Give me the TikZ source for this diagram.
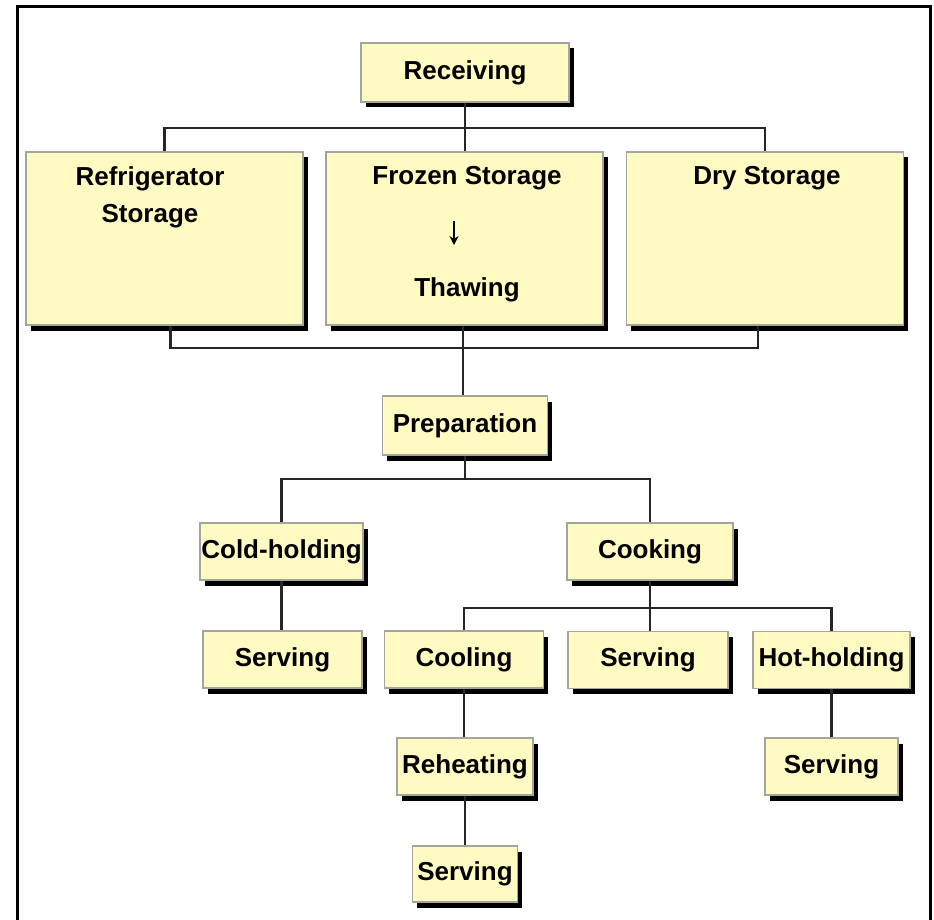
\documentclass[tikz,border=0pt]{standalone}
\usepackage{fontspec}
\setmainfont{Liberation Sans}
\usetikzlibrary{arrows.meta,positioning,shadows}
\definecolor{boxfill}{RGB}{255,250,194}
\definecolor{boxline}{RGB}{165,165,160}

\begin{document}
\begin{tikzpicture}[x=1pt, y=-1pt,
  stepbox/.style={draw=boxline, line width=1.4pt, fill=boxfill, inner sep=0pt,
    minimum height=57pt, align=center, font=\fontsize{26}{36}\selectfont\bfseries,
    drop shadow={shadow xshift=4.5pt, shadow yshift=-5.5pt, fill=black, opacity=1}},
  store/.style={stepbox, minimum width=277pt, minimum height=173pt},
  txt/.style={font=\fontsize{26}{37}\selectfont\bfseries, align=center, inner sep=0pt},
  link/.style={draw=black!85, line width=2.4pt}
]
\useasboundingbox (0,0) rectangle (934,920);
\draw[line width=3pt] (17,920) -- (17,7) -- (930,7) -- (930,920);

% bus heights
\coordinate (topbus) at (0,128);
\coordinate (botbus) at (0,348);
\coordinate (prepbus) at (0,479);
\coordinate (cookbus) at (0,608);

\node[stepbox, minimum width=208pt, minimum height=59pt] (recv) at (465,72.5) {Receiving};

\node[store] (fridge) at (164.5,238.5) {};
\node[store] (frozen) at (464.5,238.5) {};
\node[store] (dry) at (765,238.5) {};
\node[txt] (fridgetxt) at (150,197) {Refrigerator\\Storage};
\node[txt] (frztxt) at (467,178) {Frozen Storage};
\node[txt] (thawtxt) at (467,290) {Thawing};
\node[txt] (drytxt) at (767,178) {Dry Storage};
\coordinate (arrtop) at (454,221);
\coordinate (arrbot) at (454,245);

\node[stepbox, minimum width=165pt, minimum height=59pt] (prep) at (465,425.5) {Preparation};

\node[stepbox, minimum width=163pt] (cold) at (281.5,551.5) {Cold-holding};
\node[stepbox, minimum width=166pt] (cook) at (650,551.5) {Cooking};

\node[stepbox, minimum width=159pt] (servl) at (282.5,659.5) {Serving};
\node[stepbox, minimum width=159pt] (cool) at (464,659.5) {Cooling};
\node[stepbox, minimum width=160pt] (servm) at (648,660) {Serving};
\node[stepbox, minimum width=157pt] (hot) at (831.5,660) {Hot-holding};

\node[stepbox, minimum width=136pt] (reheat) at (465,766.5) {Reheating};
\node[stepbox, minimum width=133pt] (servr) at (831.5,766.5) {Serving};
\node[stepbox, minimum width=105pt, minimum height=56pt] (servb) at (465,874) {Serving};

\draw[link] (recv.south) -- (recv.south |- frozen.north);
\draw[link] (fridge.north) |- (dry.north |- topbus) -- (dry.north);
\draw[line width=2.6pt, -{Stealth[length=9pt, width=9pt]}] (arrtop) -- (arrbot);
\draw[link] ([xshift=6pt]fridge.south) |- ([xshift=-7pt]dry.south |- botbus) -- ([xshift=-7pt]dry.south);
\draw[link] ([xshift=-1.5pt]frozen.south) -- ([xshift=-1.5pt]frozen.south |- prep.north);
\draw[link] (prep.south) -- (prep.south |- prepbus);
\draw[link] (cold.north) |- (cook.north |- prepbus) -- (cook.north);
\draw[link] (cold.south) -- (cold.south |- servl.north);
\draw[link] (cook.south) -- (cook.south |- servm.north);
\draw[link] (cool.north) |- (hot.north |- cookbus) -- (hot.north);
\draw[link] (cool.south) -- (cool.south |- reheat.north);
\draw[link] (reheat.south) -- (servb.north);
\draw[link] (hot.south) -- (servr.north);
\end{tikzpicture}
\end{document}
